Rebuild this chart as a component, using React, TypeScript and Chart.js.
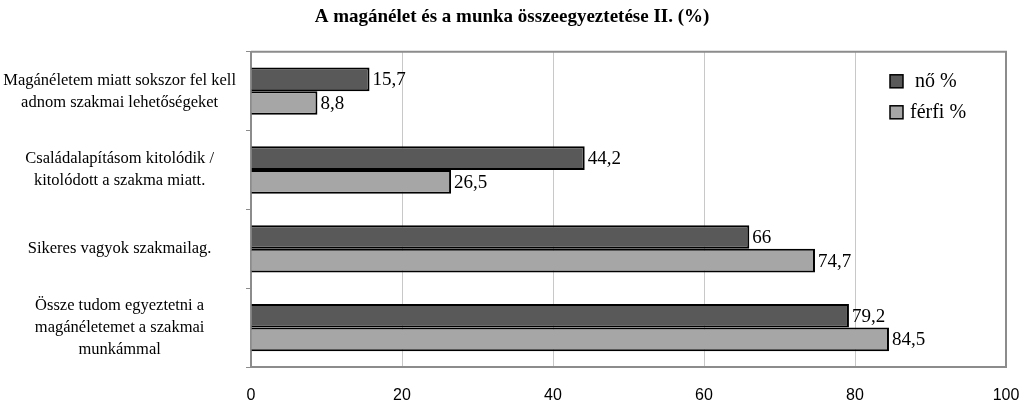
import { useEffect, useRef } from 'react';
import { Chart, registerables, type ChartConfiguration, type Plugin } from 'chart.js';

Chart.register(...registerables);

const TITLE = 'A magánélet és a munka összeegyeztetése II. (%)';
const CATEGORIES = [
  ['Magánéletem miatt sokszor fel kell', 'adnom szakmai lehetőségeket'],
  ['Családalapításom kitolódik /', 'kitolódott a szakma miatt.'],
  ['Sikeres vagyok szakmailag.'],
  ['Össze tudom egyeztetni a', 'magánéletemet a szakmai', 'munkámmal'],
];
const SERIES_NAMES = ['nő %', 'férfi %'];
const NO_VALUES = [15.7, 44.2, 66, 79.2];
const FERFI_VALUES = [8.8, 26.5, 74.7, 84.5];
const X_TICKS = [0, 20, 40, 60, 80, 100];

const SERIF = '"Liberation Serif", "DejaVu Serif", serif';
const COLORS = ['#595959', '#a6a6a6'];

// értékcímkék a sávok végén, tizedesvesszővel
const valueLabels: Plugin<'bar'> = {
  id: 'valueLabels',
  afterDatasetsDraw(chart) {
    const ctx = chart.ctx;
    ctx.save();
    ctx.font = `19px ${SERIF}`;
    ctx.fillStyle = '#000';
    ctx.textAlign = 'left';
    ctx.textBaseline = 'middle';
    chart.data.datasets.forEach((ds, di) => {
      const meta = chart.getDatasetMeta(di);
      meta.data.forEach((bar, i) => {
        const v = ds.data[i] as number;
        ctx.fillText(String(v).replace('.', ','), bar.x + 3, bar.y + 1);
      });
    });
    ctx.restore();
  },
};

// keret a rajzterület körül + jelmagyarázat a rajzterületen belül
const frameAndLegend: Plugin<'bar'> = {
  id: 'frameAndLegend',
  afterDraw(chart) {
    const { ctx, chartArea } = chart;
    ctx.save();
    ctx.strokeStyle = '#8c8c8c';
    ctx.lineWidth = 2;
    ctx.beginPath();
    ctx.moveTo(chartArea.left, chartArea.top);
    ctx.lineTo(chartArea.right, chartArea.top);
    ctx.lineTo(chartArea.right, chartArea.bottom);
    ctx.stroke();

    const x0 = chartArea.right - 116;
    const y0 = chartArea.top + 23;
    ctx.font = `20px ${SERIF}`;
    ctx.textBaseline = 'middle';
    SERIES_NAMES.forEach((name, i) => {
      const y = y0 + i * 31;
      ctx.fillStyle = COLORS[i];
      ctx.fillRect(x0, y, 13, 13);
      ctx.strokeStyle = '#000';
      ctx.lineWidth = 1.5;
      ctx.strokeRect(x0, y, 13, 13);
      ctx.fillStyle = '#000';
      ctx.fillText(name, x0 + (i === 0 ? 25 : 20), y + 7);
    });
    ctx.restore();
  },
};

export default function App() {
  const canvasRef = useRef<HTMLCanvasElement>(null);
  const chartRef = useRef<Chart<'bar'> | null>(null);

  useEffect(() => {
    if (!canvasRef.current) return;
    chartRef.current?.destroy();

    const config: ChartConfiguration<'bar'> = {
      type: 'bar',
      data: {
        labels: CATEGORIES,
        datasets: [
          {
            label: SERIES_NAMES[0],
            data: NO_VALUES,
            backgroundColor: COLORS[0],
            borderColor: '#000',
            borderWidth: 2,
          },
          {
            label: SERIES_NAMES[1],
            data: FERFI_VALUES,
            backgroundColor: COLORS[1],
            borderColor: '#000',
            borderWidth: 2,
          },
        ],
      },
      options: {
        indexAxis: 'y',
        animation: false,
        responsive: true,
        maintainAspectRatio: false,
        layout: { padding: 0 },
        datasets: { bar: { categoryPercentage: 0.6, barPercentage: 1 } },
        plugins: {
          legend: { display: false },
          tooltip: { enabled: false },
          title: {
            display: true,
            text: TITLE,
            color: '#000',
            font: { family: SERIF, size: 19, weight: 'bold', lineHeight: 1.2 },
            padding: { top: 6, bottom: 23 },
          },
        },
        scales: {
          x: {
            min: 0,
            max: 100,
            afterBuildTicks: (axis) => { axis.ticks = X_TICKS.map(v => ({ value: v })); },
            afterFit: (axis) => {
              axis.height = 39;
              axis.paddingLeft = 0;
              axis.paddingRight = 18;
            },
            grid: { color: '#c8c8c8', lineWidth: 1, drawTicks: false },
            border: { color: '#8c8c8c', width: 2 },
            ticks: {
              color: '#000',
              padding: 19,
              font: { family: '"Liberation Sans", Arial, sans-serif', size: 16 },
            },
          },
          y: {
            afterFit: (axis) => { axis.width = 251; },
            grid: { drawOnChartArea: false, color: '#8c8c8c', tickLength: 5 },
            border: { color: '#8c8c8c', width: 2 },
            ticks: {
              color: '#000',
              padding: 10,
              crossAlign: 'center',
              font: { family: SERIF, size: 16.5, lineHeight: 1.33 },
            },
          },
        },
      },
      plugins: [valueLabels, frameAndLegend],
    };
    chartRef.current = new Chart(canvasRef.current, config);

    return () => { chartRef.current?.destroy(); chartRef.current = null; };
  }, []);

  return (
    <div style={{ position: 'fixed', left: 0, top: 0, width: 1024, height: 406, background: '#fff' }}>
      <canvas ref={canvasRef} />
    </div>
  );
}
